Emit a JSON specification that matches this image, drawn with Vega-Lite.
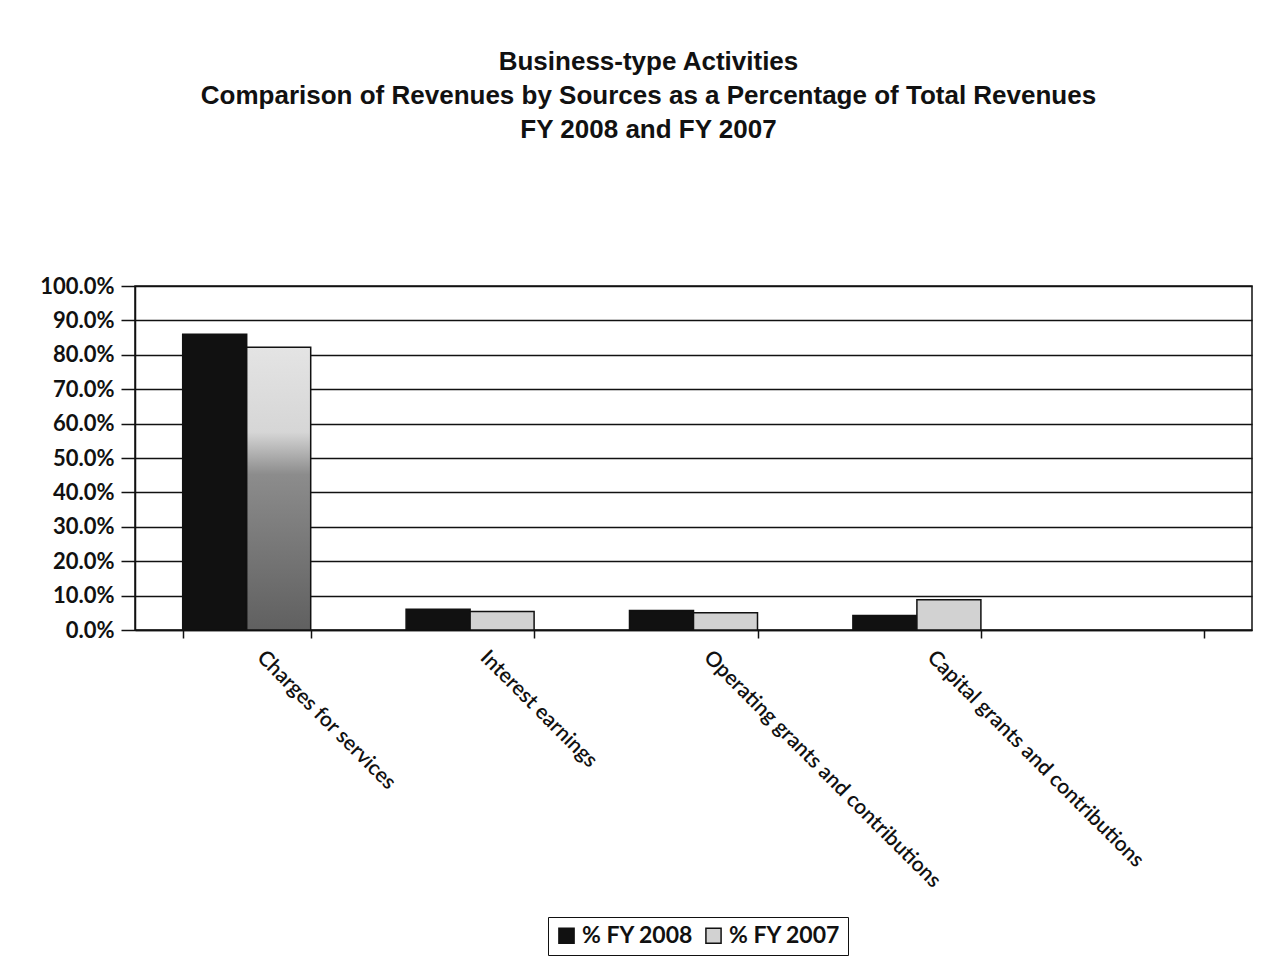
{
  "$schema": "https://vega.github.io/schema/vega-lite/v6.json",
  "width": 1117,
  "height": 344,
  "autosize": {"type": "none"},
  "padding": {"left": 135, "top": 286, "right": 17, "bottom": 340},
  "background": "white",
  "title": {
    "text": ["Business-type Activities", "Comparison of Revenues by Sources as a Percentage of Total Revenues", "FY 2008 and FY 2007"],
    "font": "Liberation Sans",
    "fontSize": 26,
    "fontWeight": "bold",
    "color": "#111111",
    "anchor": "middle",
    "dx": -45,
    "offset": 132,
    "lineHeight": 34
  },
  "data": {
    "values": [
      {"source": "Charges for services", "series": "% FY 2008", "pct": 0.860},
      {"source": "Charges for services", "series": "% FY 2007", "pct": 0.822},
      {"source": "Interest earnings", "series": "% FY 2008", "pct": 0.060},
      {"source": "Interest earnings", "series": "% FY 2007", "pct": 0.054},
      {"source": "Operating grants and contributions", "series": "% FY 2008", "pct": 0.057},
      {"source": "Operating grants and contributions", "series": "% FY 2007", "pct": 0.050},
      {"source": "Capital grants and contributions", "series": "% FY 2008", "pct": 0.042},
      {"source": "Capital grants and contributions", "series": "% FY 2007", "pct": 0.088}
    ]
  },
  "config": {
    "view": {"stroke": "#111111", "strokeWidth": 1.5}
  },
  "mark": {"type": "bar", "stroke": "#111111", "strokeWidth": 1.5},
  "encoding": {
    "x": {
      "field": "source",
      "type": "nominal",
      "sort": null,
      "scale": {
        "domain": ["Charges for services", "Interest earnings", "Operating grants and contributions", "Capital grants and contributions", " "],
        "paddingInner": 0.427,
        "paddingOuter": 0.2135
      },
      "axis": {
        "title": null,
        "labelAngle": 45,
        "labelAlign": "left",
        "labelBaseline": "middle",
        "labelPadding": 16,
        "labelOffset": 13,
        "labelFont": "Lato",
        "labelFontSize": 21,
        "labelFontWeight": 600,
        "labelColor": "#111111",
        "labelLimit": 500,
        "tickBand": "extent",
        "tickColor": "#111111",
        "tickSize": 8,
        "tickWidth": 1.5,
        "domainColor": "#111111",
        "domainWidth": 1.5,
        "grid": false
      }
    },
    "xOffset": {
      "field": "series",
      "type": "nominal",
      "scale": {"domain": ["% FY 2008", "% FY 2007"], "paddingInner": 0, "paddingOuter": 0}
    },
    "y": {
      "field": "pct",
      "type": "quantitative",
      "scale": {"domain": [0, 1], "nice": false},
      "axis": {
        "title": null,
        "values": [0, 0.1, 0.2, 0.3, 0.4, 0.5, 0.6, 0.7, 0.8, 0.9, 1.0],
        "labelOverlap": false,
        "format": ".1%",
        "grid": true,
        "gridColor": "#111111",
        "gridWidth": 1.3,
        "gridOpacity": 1,
        "domainColor": "#111111",
        "domainWidth": 1.5,
        "tickColor": "#111111",
        "tickSize": 14,
        "tickWidth": 1.5,
        "labelPadding": 7,
        "labelFont": "Lato",
        "labelFontSize": 22,
        "labelFontWeight": "bold",
        "labelColor": "#111111"
      }
    },
    "fill": {
      "condition": {
        "test": "datum.series === '% FY 2007' && datum.source === 'Charges for services'",
        "value": {
          "gradient": "linear",
          "x1": 0, "y1": 0, "x2": 0, "y2": 1,
          "stops": [
            {"offset": 0, "color": "#e4e4e4"},
            {"offset": 0.3, "color": "#d6d6d6"},
            {"offset": 0.45, "color": "#8c8c8c"},
            {"offset": 1, "color": "#606060"}
          ]
        }
      },
      "field": "series",
      "type": "nominal",
      "scale": {"domain": ["% FY 2008", "% FY 2007"], "range": ["#111111", "#d2d2d2"]},
      "legend": {
        "title": null,
        "orient": "none",
        "legendX": 413,
        "legendY": 631,
        "direction": "horizontal",
        "symbolType": "square",
        "symbolSize": 230,
        "symbolStrokeColor": "#111111",
        "symbolStrokeWidth": 1.5,
        "symbolOpacity": 1,
        "labelFont": "Lato",
        "labelFontSize": 23,
        "labelFontWeight": "bold",
        "labelColor": "#111111",
        "columnPadding": 8,
        "labelOffset": 4,
        "strokeColor": "#111111",
        "fillColor": "white",
        "padding": 7
      }
    }
  }
}
